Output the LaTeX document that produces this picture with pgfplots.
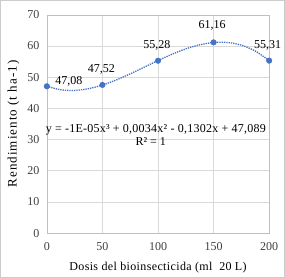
\documentclass[border=0pt]{standalone}
\usepackage{pgfplots}
\pgfplotsset{compat=1.18}
\usepackage{fontspec}
\setmainfont{Liberation Serif}
\definecolor{ser}{HTML}{4472C4}
\definecolor{txt}{HTML}{404040}
\begin{document}
\begin{tikzpicture}[x=1pt,y=1pt]
\begin{axis}[name=ax,
  scale only axis, width=222pt, height=218pt,
  xmin=0, xmax=200, ymin=0, ymax=70,
  xtick={0,50,...,200}, ytick={0,10,...,70},
  grid=major, grid style={draw=black!15, line width=0.6pt},
  axis line style={draw=black!25, line width=0.6pt},
  tick style={draw=none},
  /pgf/number format/assume math mode=true,
  ticklabel style={font=\rmfamily\fontsize{12}{14}\selectfont, text=txt},
  xticklabel style={yshift=-6pt},
  yticklabel style={xshift=-4pt},
  label style={font=\rmfamily\fontsize{12}{14}\selectfont, text=black},
  xlabel={\addfontfeature{LetterSpace=3}Dosis del bioinsecticida (ml \ 20 L)},
  ylabel={\fontsize{13}{15}\selectfont\addfontfeature{LetterSpace=8}Rendimiento (t ha-1)},
  xlabel style={yshift=-5pt},
  ylabel style={yshift=1pt},
  clip=false,
]
\addplot[ser, densely dotted, line width=1.3pt, smooth] coordinates {
(0,47.089) (12.5,45.966) (25,45.759) (37.5,46.313) (50,47.483) (62.5,49.119)
(75,51.072) (87.5,53.194) (100,55.336) (112.5,57.348) (125,59.084) (137.5,60.391)
(150,61.123) (162.5,61.131) (175,60.265) (187.5,58.379) (200,55.319)};
\addplot[only marks, mark=*, mark size=2.8pt, ser] coordinates {
(0,47.08) (50,47.52) (100,55.28) (150,61.16) (200,55.31)};
\begin{scope}[every node/.style={font=\rmfamily\fontsize{12}{14}\selectfont, text=black}]
\node at (axis cs:19.8,48.6) {47,08};
\node at (axis cs:49,52.6) {47,52};
\node at (axis cs:99,60.1) {55,28};
\node at (axis cs:148.6,66.5) {61,16};
\node at (axis cs:198.6,60.2) {55,31};
\node at (axis cs:98,33.1) {\fontsize{12}{14}\selectfont\addfontfeature{LetterSpace=2}y = -1E-05x³ + 0,0034x² - 0,1302x + 47,089};
\node at (axis cs:93.5,29.3) {R² = 1};
\end{scope}
\end{axis}
\draw[black!20, line width=0.6pt] ([xshift=-46.5pt,yshift=-44.5pt]ax.south west) rectangle ([xshift=15.5pt,yshift=14.5pt]ax.north east);
\end{tikzpicture}
\end{document}
